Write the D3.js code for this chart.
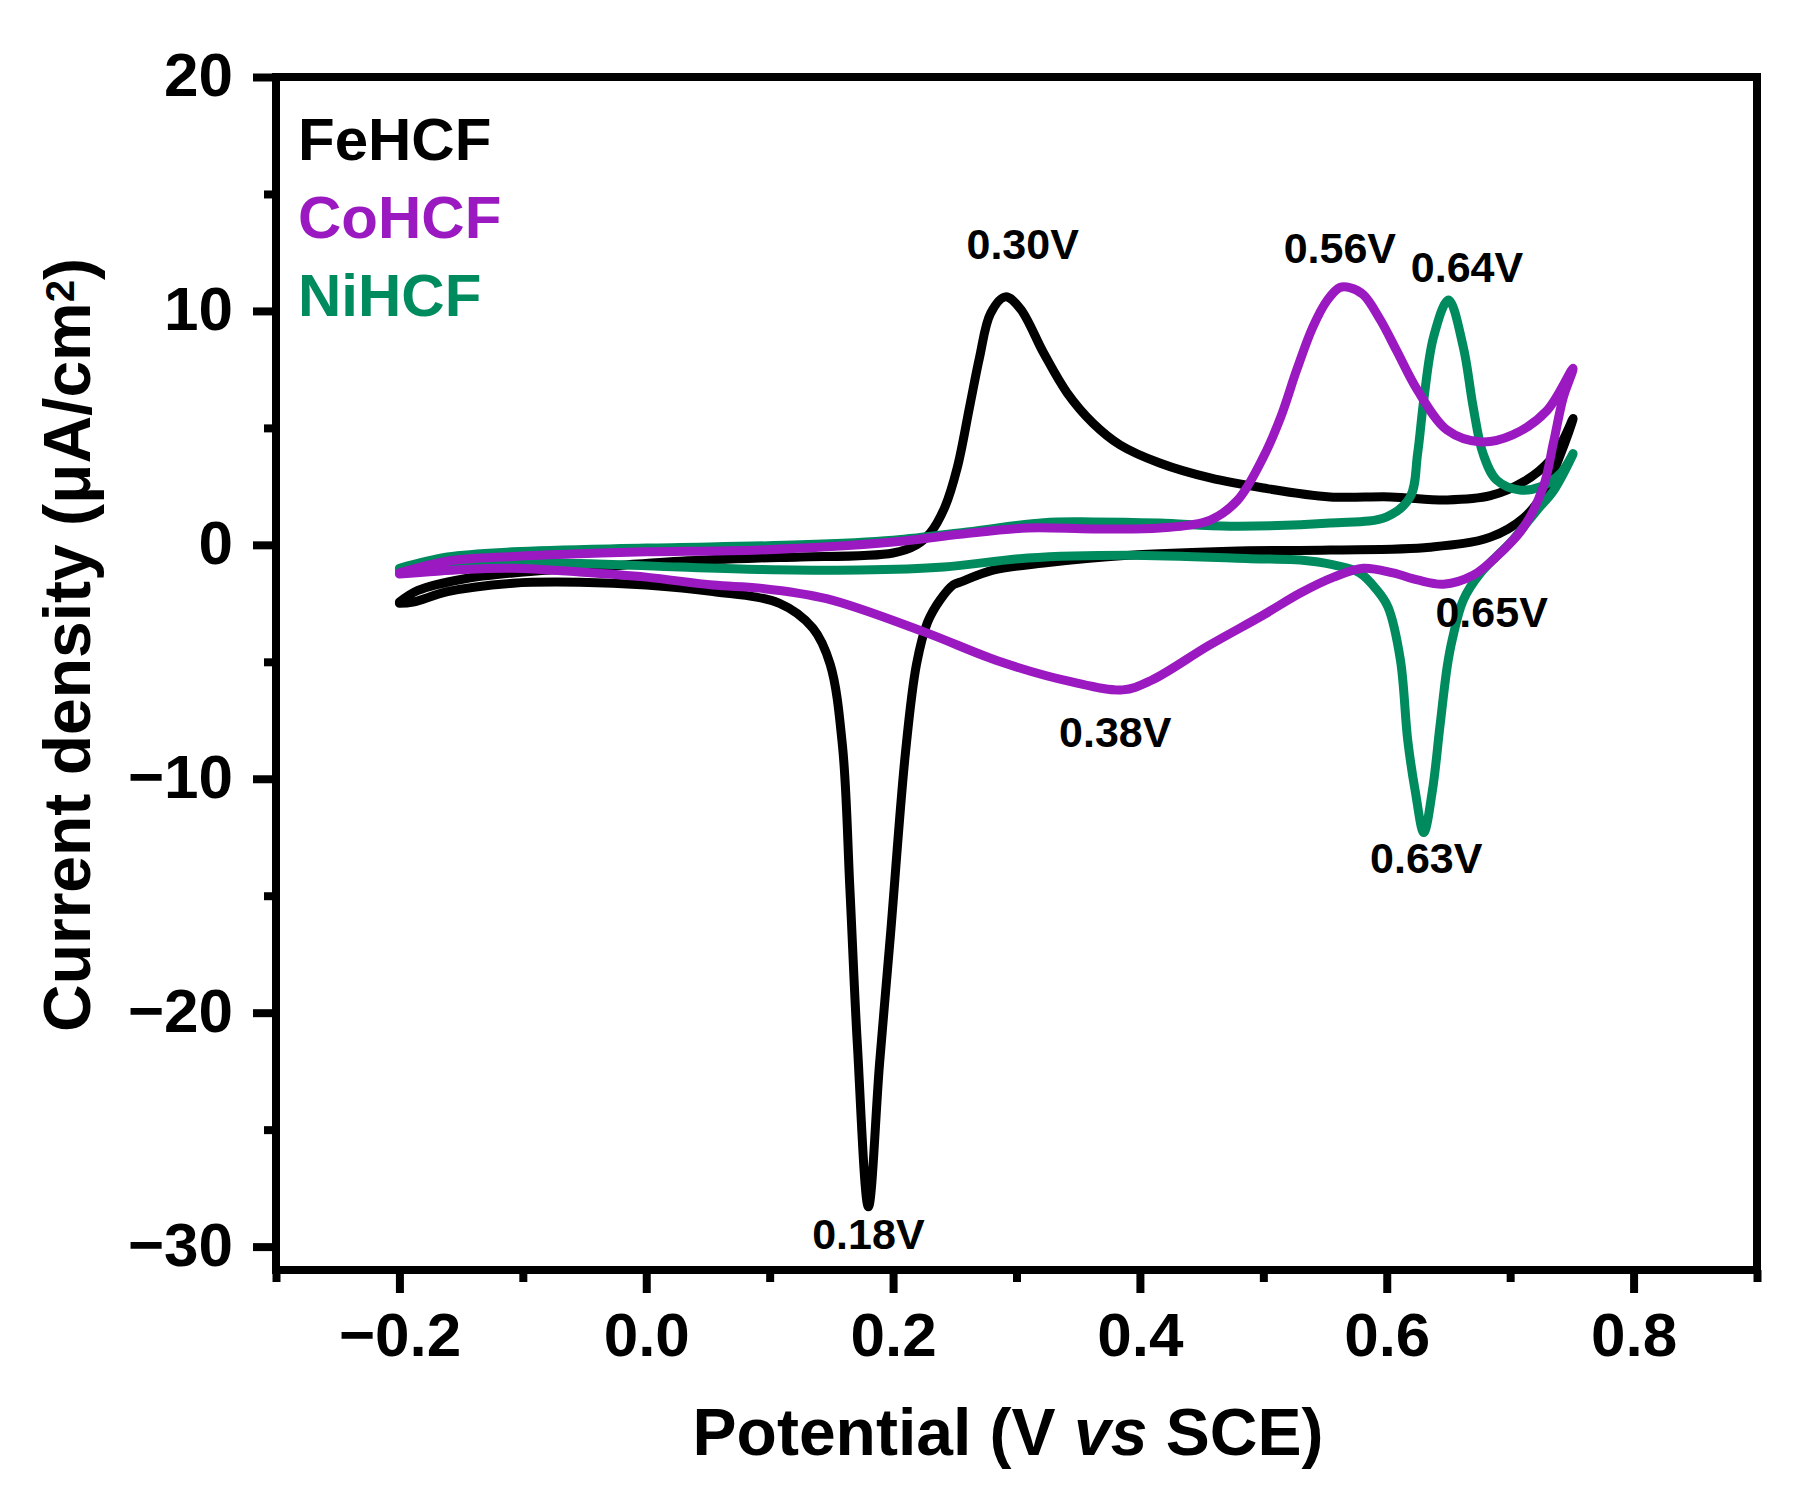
<!DOCTYPE html>
<html>
<head>
<meta charset="utf-8">
<script src="https://cdn.jsdelivr.net/npm/d3@7"></script>
<style>
  body { margin: 0; background: #fff; }
  text { font-family: 'Liberation Sans', Arial, sans-serif; font-weight: bold; }
</style>
</head>
<body>
<svg id="chart" width="1808" height="1498"></svg>
<script>
// cyclic voltammograms: anodic sweep then cathodic sweep
const fePotential = [-0.200, -0.185, -0.148, -0.108, -0.054, 0.027, 0.092, 0.125, 0.200, 0.219, 0.230, 0.242, 0.252, 0.262, 0.270, 0.279, 0.291, 0.303, 0.322, 0.341, 0.362, 0.384, 0.416, 0.457, 0.500, 0.554, 0.603, 0.649, 0.684, 0.711, 0.732, 0.743, 0.751,
  0.741, 0.727, 0.711, 0.684, 0.635, 0.554, 0.473, 0.390, 0.322, 0.281, 0.254, 0.249, 0.238, 0.228, 0.219, 0.210, 0.198, 0.189, 0.180, 0.171, 0.165, 0.159, 0.149, 0.135, 0.108, 0.054, 0.000, -0.054, -0.108, -0.161, -0.189, -0.200]
const feCurrent = [-2.45, -1.95, -1.46, -1.20, -1.00, -0.70, -0.56, -0.52, -0.35, 0.00, 0.50, 1.62, 3.30, 5.90, 8.00, 9.90, 10.60, 10.10, 8.20, 6.50, 5.20, 4.27, 3.50, 2.86, 2.43, 2.05, 2.05, 1.92, 2.10, 2.70, 3.60, 4.50, 5.40,
  3.90, 2.20, 1.15, 0.33, -0.10, -0.22, -0.27, -0.45, -0.78, -1.08, -1.60, -1.70, -2.36, -3.30, -5.10, -8.90, -16.6, -22.2, -28.3, -21.3, -14.7, -8.60, -5.10, -3.56, -2.50, -2.00, -1.72, -1.60, -1.64, -2.00, -2.45, -2.50]

const coPotential = [-0.200, -0.161, -0.108, -0.054, 0.000, 0.092, 0.200, 0.254, 0.309, 0.362, 0.416, 0.457, 0.479, 0.500, 0.514, 0.527, 0.540, 0.552, 0.562, 0.570, 0.581, 0.595, 0.608, 0.625, 0.649, 0.676, 0.702, 0.730, 0.751,
  0.743, 0.735, 0.727, 0.711, 0.689, 0.670, 0.646, 0.625, 0.605, 0.581, 0.557, 0.530, 0.500, 0.456, 0.409, 0.386, 0.344, 0.287, 0.224, 0.146, 0.092, 0.054, 0.000, -0.054, -0.108, -0.148, -0.200]
const coCurrent = [-1.20, -0.70, -0.50, -0.38, -0.30, -0.22, 0.12, 0.45, 0.72, 0.68, 0.72, 1.06, 1.90, 3.75, 5.45, 7.47, 9.30, 10.47, 11.00, 11.00, 10.70, 9.60, 8.30, 6.60, 4.90, 4.40, 4.70, 5.75, 7.55,
  6.30, 4.35, 2.50, 0.76, -0.50, -1.30, -1.68, -1.50, -1.20, -1.00, -1.38, -2.06, -3.00, -4.30, -5.80, -6.20, -5.85, -5.00, -3.70, -2.30, -1.85, -1.72, -1.38, -1.16, -1.00, -1.05, -1.25]

const niPotential = [-0.200, -0.161, -0.108, 0.000, 0.125, 0.200, 0.260, 0.322, 0.362, 0.416, 0.473, 0.554, 0.600, 0.619, 0.625, 0.630, 0.638, 0.650, 0.662, 0.670, 0.678, 0.689, 0.708, 0.724, 0.741, 0.751,
  0.735, 0.722, 0.702, 0.676, 0.662, 0.653, 0.649, 0.643, 0.637, 0.630, 0.623, 0.617, 0.611, 0.601, 0.592, 0.578, 0.557, 0.530, 0.497, 0.390, 0.309, 0.241, 0.173, 0.092, 0.027, -0.054, -0.108, -0.200]
const niCurrent = [-1.00, -0.52, -0.30, -0.14, 0.00, 0.20, 0.55, 0.95, 0.98, 0.93, 0.80, 0.93, 1.20, 2.05, 3.90, 6.20, 8.90, 10.47, 8.46, 5.90, 3.90, 2.77, 2.34, 2.47, 3.07, 3.90,
  2.30, 1.50, 0.20, -1.20, -2.36, -4.07, -5.20, -7.80, -10.5, -12.3, -10.5, -8.35, -4.90, -2.66, -1.93, -1.20, -0.86, -0.65, -0.60, -0.44, -0.56, -0.95, -1.08, -1.05, -0.95, -0.80, -0.80, -1.08]

const seriesNames = ['FeHCF', 'CoHCF', 'NiHCF']
const seriesColors = ['#000000', '#9a19c0', '#008b5f']

const xMajorTicks = [-0.2, 0.0, 0.2, 0.4, 0.6, 0.8]
const xMinorTicks = [-0.3, -0.1, 0.1, 0.3, 0.5, 0.7, 0.9]
const yMajorTicks = [20, 10, 0, -10, -20, -30]
const yMinorTicks = [15, 5, -5, -15, -25]

// peak annotations, placed in data units
const peakLabels = ['0.30V', '0.56V', '0.64V', '0.65V', '0.18V', '0.38V', '0.63V']
const peakLabelX = [0.305, 0.562, 0.665, 0.685, 0.180, 0.380, 0.632]
const peakLabelY = [12.22, 12.05, 11.24, -3.51, -30.11, -8.64, -14.03]

var svg = d3.select('#chart')
var plotL = 276, plotR = 1757, plotT = 77, plotB = 1270

var x = d3.scaleLinear().domain([-0.3, 0.9]).range([plotL, plotR])
var y = d3.scaleLinear().domain([-31, 20]).range([plotB, plotT])

svg.append('rect').attr('width', 1808).attr('height', 1498).attr('fill', '#fff')

var line = d3
  .line()
  .curve(d3.curveCatmullRom.alpha(0.5))
  .x(function(d) { return x(d[0]) })
  .y(function(d) { return y(d[1]) })

var curves = [
  d3.zip(fePotential, feCurrent),
  d3.zip(niPotential, niCurrent),
  d3.zip(coPotential, coCurrent)
]
var curveColors = [seriesColors[0], seriesColors[2], seriesColors[1]]

svg
  .append('g')
  .selectAll('path')
  .data(curves)
  .enter()
  .append('path')
  .attr('d', line)
  .attr('fill', 'none')
  .attr('stroke', function(d, i) { return curveColors[i] })
  .attr('stroke-width', 9)
  .attr('stroke-linejoin', 'round')
  .attr('stroke-linecap', 'round')

// axes: outward ticks on bottom and left only
var xAxis = svg
  .append('g')
  .attr('transform', 'translate(0,' + plotB + ')')
  .call(d3.axisBottom(x).tickValues(xMajorTicks).tickSize(23).tickPadding(42)
    .tickFormat(function(d) { return d3.format('.1f')(d).replace('-', '\u2212') }))
svg
  .append('g')
  .attr('transform', 'translate(0,' + plotB + ')')
  .call(d3.axisBottom(x).tickValues(xMinorTicks).tickSize(12).tickFormat(''))

var yAxis = svg
  .append('g')
  .attr('transform', 'translate(' + plotL + ',0)')
  .call(d3.axisLeft(y).tickValues(yMajorTicks).tickSize(23).tickPadding(20)
    .tickFormat(function(d) { return String(d).replace('-', '\u2212') }))
svg
  .append('g')
  .attr('transform', 'translate(' + plotL + ',0)')
  .call(d3.axisLeft(y).tickValues(yMinorTicks).tickSize(12).tickFormat(''))

svg.selectAll('.domain').remove()
svg.selectAll('.tick line').attr('stroke', '#000').attr('stroke-width', 8)
svg.selectAll('.tick text')
  .attr('fill', '#000')
  .style('font-size', '62px')
  .style('font-family', "'Liberation Sans', Arial, sans-serif")
  .style('font-weight', 'bold')
yAxis.selectAll('.tick text').attr('dy', '0.3em')
xAxis.selectAll('.tick text').attr('dy', '0.71em').attr('y', 42)

svg
  .append('rect')
  .attr('x', plotL)
  .attr('y', plotT)
  .attr('width', plotR - plotL)
  .attr('height', plotB - plotT)
  .attr('fill', 'none')
  .attr('stroke', '#000')
  .attr('stroke-width', 8)
  .attr('stroke-linejoin', 'miter')

// legend text
svg
  .append('g')
  .selectAll('text')
  .data(seriesNames)
  .enter()
  .append('text')
  .attr('x', 298)
  .attr('y', function(d, i) { return 160 + i * 78 })
  .attr('fill', function(d, i) { return seriesColors[i] })
  .style('font-size', '60px')
  .text(function(d) { return d })

// peak labels
svg
  .append('g')
  .selectAll('text')
  .data(peakLabels)
  .enter()
  .append('text')
  .attr('x', function(d, i) { return x(peakLabelX[i]) })
  .attr('y', function(d, i) { return y(peakLabelY[i]) })
  .attr('text-anchor', 'middle')
  .style('font-size', '43px')
  .text(function(d) { return d })

// axis titles
var xt = svg
  .append('text')
  .attr('x', 1008)
  .attr('y', 1455)
  .attr('text-anchor', 'middle')
  .style('font-size', '66px')
xt.append('tspan').text('Potential (V ')
xt.append('tspan').style('font-style', 'italic').text('vs')
xt.append('tspan').text(' SCE)')

var yt = svg
  .append('text')
  .attr('transform', 'translate(90,645) rotate(-90)')
  .attr('text-anchor', 'middle')
  .style('font-size', '66px')
yt.append('tspan').text('Current density (\u03bcA/cm')
yt.append('tspan').attr('dy', '-0.4em').style('font-size', '40px').text('2')
yt.append('tspan').attr('dy', '0.26em').text(')')
</script>
</body>
</html>
